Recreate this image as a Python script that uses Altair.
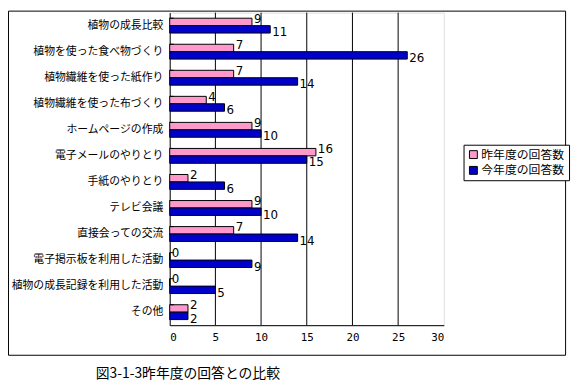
import altair as alt
import pandas as pd

categories = ["植物の成長比較", "植物を使った食べ物づくり", "植物繊維を使った紙作り", "植物繊維を使った布づくり",
              "ホームページの作成", "電子メールのやりとり", "手紙のやりとり", "テレビ会議",
              "直接会っての交流", "電子掲示板を利用した活動", "植物の成長記録を利用した活動", "その他"]
last_year = [9, 7, 7, 4, 9, 16, 2, 9, 7, 0, 0, 2]
this_year = [11, 26, 14, 6, 10, 15, 6, 10, 14, 9, 5, 2]
series = ["昨年度の回答数", "今年度の回答数"]
colors = ["#FF99CC", "#0000CC"]
grid_values = [5, 10, 15, 20, 25]
caption = "図3-1-3昨年度の回答との比較"

FONT = "Noto Sans CJK JP"

rows = []
for c, a, b in zip(categories, last_year, this_year):
    rows.append({"cat": c, "series": series[0], "value": a})
    rows.append({"cat": c, "series": series[1], "value": b})
df = pd.DataFrame(rows)

W, H = 278, 317

yscale = alt.Scale(domain=categories, paddingInner=0.43, paddingOuter=0.215)
xscale = alt.Scale(domain=[0, 30])

base = alt.Chart(df)

bars = base.mark_bar(stroke="black", strokeWidth=1).encode(
    x=alt.X("value:Q", scale=xscale,
            axis=alt.Axis(values=[0, 5, 10, 15, 20, 25, 30], title=None, grid=False,
                          ticks=False, domainColor="black", labelFontSize=11,
                          labelFont="DejaVu Sans Mono", labelColor="black", labelPadding=7)),
    y=alt.Y("cat:N", scale=yscale, sort=categories,
            axis=alt.Axis(title=None, ticks=False, domainColor="black", labelFontSize=11,
                          labelFont=FONT, labelColor="black", labelPadding=7,
                          labelLimit=200)),
    yOffset=alt.YOffset("series:N", sort=series, scale=alt.Scale(domain=series)),
    fill=alt.Fill("series:N", sort=series,
                  scale=alt.Scale(domain=series, range=colors),
                  legend=alt.Legend(title=None, orient="none", legendX=298, legendY=134,
                                    fillColor="white", strokeColor="black", padding=4,
                                    symbolType="square", symbolSize=64,
                                    symbolStrokeColor="black", symbolStrokeWidth=1,
                                    labelFont=FONT, labelFontSize=12, labelColor="black",
                                    rowPadding=4, symbolOffset=0, labelOffset=2)),
)

grid = alt.Chart(pd.DataFrame({"g": grid_values})).mark_rule(color="black", strokeWidth=1).encode(
    x=alt.X("g:Q", scale=xscale)
)

ticks = alt.Chart(pd.DataFrame({"cat": categories})).mark_rule(color="black").encode(
    y=alt.Y("cat:N", scale=yscale, sort=categories, bandPosition=0),
    x=alt.value(0), x2=alt.value(4)
)

lab_last = base.transform_filter(alt.datum.series == series[0]).mark_text(
    align="left", baseline="middle", dx=2, dy=-3, fontSize=12, font="DejaVu Sans", color="black"
).encode(
    x=alt.X("value:Q", scale=xscale),
    y=alt.Y("cat:N", scale=yscale, sort=categories),
    yOffset=alt.YOffset("series:N", sort=series, scale=alt.Scale(domain=series)),
    text="value:Q",
)
lab_this = base.transform_filter(alt.datum.series == series[1]).mark_text(
    align="left", baseline="middle", dx=2, dy=3, fontSize=12, font="DejaVu Sans", color="black"
).encode(
    x=alt.X("value:Q", scale=xscale),
    y=alt.Y("cat:N", scale=yscale, sort=categories),
    yOffset=alt.YOffset("series:N", sort=series, scale=alt.Scale(domain=series)),
    text="value:Q",
)

frame = alt.Chart(pd.DataFrame({"a": [0]})).mark_rect(
    fill=None, stroke="black", strokeWidth=1
).encode(x=alt.value(-163.5), x2=alt.value(401.5), y=alt.value(-1.5), y2=alt.value(347.5))

cap = alt.Chart(pd.DataFrame({"t": [caption]})).mark_text(
    align="left", baseline="middle", fontSize=14, font=FONT, color="black"
).encode(x=alt.value(-75), y=alt.value(367), text="t:N")

chart = alt.layer(frame, grid, bars, ticks, lab_last, lab_this, cap).properties(
    width=W, height=H,
    autosize=alt.AutoSizeParams(type="none"),
    padding={"left": 164, "top": 2, "right": 130, "bottom": 59},
).configure_view(stroke="#808080", strokeWidth=1).configure(background="white")

chart.save("out.html", embed_options={"renderer": "svg", "actions": False})
